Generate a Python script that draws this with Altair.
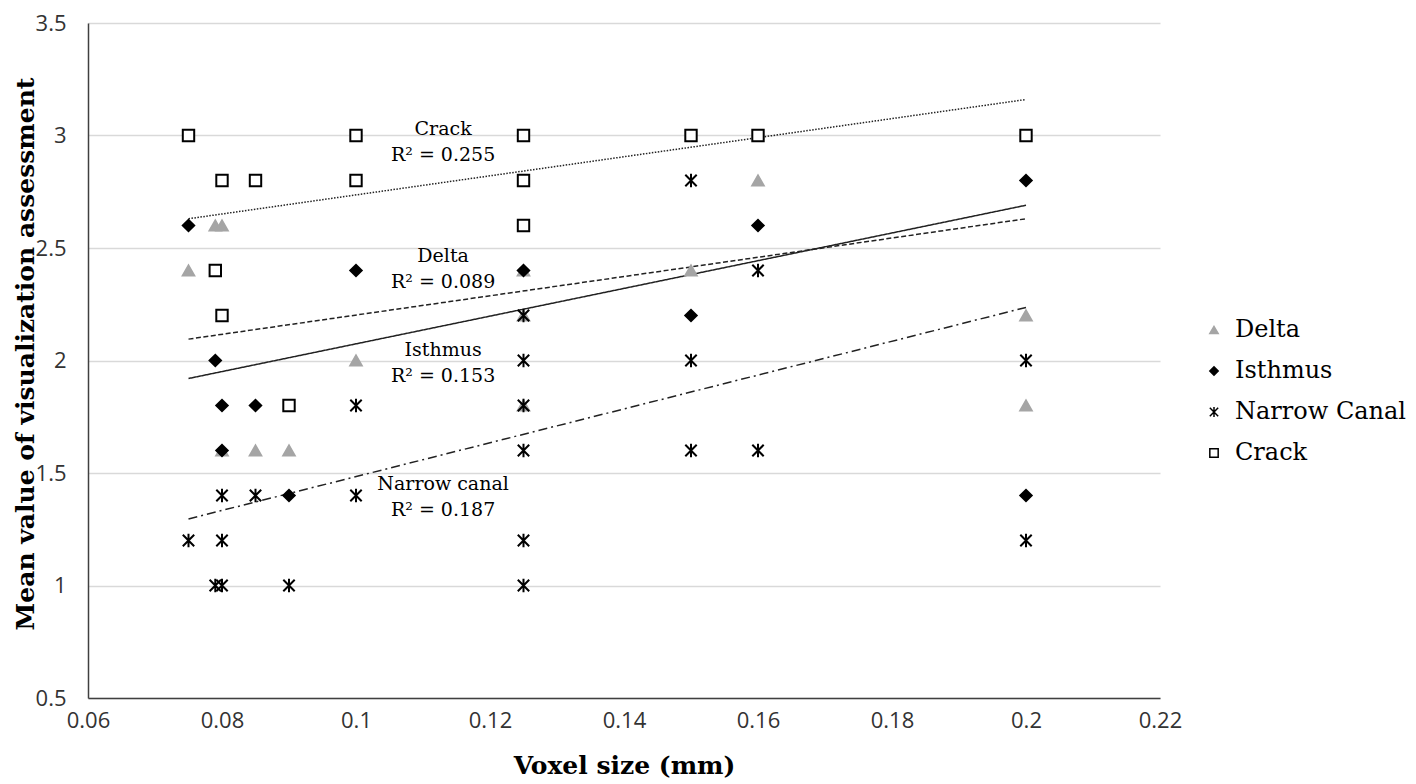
import altair as alt
import pandas as pd

# ---------------- data ----------------
series_order = ["Delta", "Isthmus", "Narrow Canal", "Crack"]

delta_x = [0.075, 0.079, 0.08, 0.08, 0.085, 0.09, 0.1, 0.125, 0.125, 0.125, 0.15, 0.16, 0.2, 0.2]
delta_y = [2.4, 2.6, 2.6, 1.6, 1.6, 1.6, 2.0, 2.4, 2.2, 1.8, 2.4, 2.8, 2.2, 1.8]

isthmus_x = [0.075, 0.079, 0.08, 0.08, 0.085, 0.09, 0.1, 0.125, 0.15, 0.16, 0.2, 0.2]
isthmus_y = [2.6, 2.0, 1.8, 1.6, 1.8, 1.4, 2.4, 2.4, 2.2, 2.6, 2.8, 1.4]

narrow_x = [0.075, 0.079, 0.08, 0.08, 0.08, 0.085, 0.09, 0.1, 0.1,
            0.125, 0.125, 0.125, 0.125, 0.125, 0.125, 0.15, 0.15, 0.15, 0.16, 0.16, 0.2, 0.2]
narrow_y = [1.2, 1.0, 1.4, 1.2, 1.0, 1.4, 1.0, 1.8, 1.4,
            2.2, 2.0, 1.8, 1.6, 1.2, 1.0, 2.8, 2.0, 1.6, 2.4, 1.6, 2.0, 1.2]

crack_x = [0.075, 0.079, 0.08, 0.08, 0.085, 0.09, 0.1, 0.1, 0.125, 0.125, 0.125, 0.15, 0.16, 0.2]
crack_y = [3.0, 2.4, 2.8, 2.2, 2.8, 1.8, 3.0, 2.8, 3.0, 2.8, 2.6, 3.0, 3.0, 3.0]

# linear trend lines (start / end)
trend_x = [0.075, 0.2]
trend_delta = [2.095, 2.63]
trend_isthmus = [1.92, 2.69]
trend_narrow = [1.296, 2.236]
trend_crack = [2.63, 3.16]

# annotations
ann_names = ["Crack", "Delta", "Isthmus", "Narrow canal"]
ann_r2 = ["R² = 0.255", "R² = 0.089", "R² = 0.153", "R² = 0.187"]
ann_x = [0.113, 0.113, 0.113, 0.113]
ann_y = [2.969, 2.4045, 1.991, 1.392]

x_ticks = [0.06, 0.08, 0.10, 0.12, 0.14, 0.16, 0.18, 0.20, 0.22]
y_ticks = [0.5, 1.0, 1.5, 2.0, 2.5, 3.0, 3.5]

# ---------------- tables ----------------
rows = []
for name, xs, ys in [("Delta", delta_x, delta_y), ("Isthmus", isthmus_x, isthmus_y),
                     ("Narrow Canal", narrow_x, narrow_y), ("Crack", crack_x, crack_y)]:
    for a, b in zip(xs, ys):
        rows.append({"series": name, "x": a, "y": b})
pts = pd.DataFrame(rows)

trows = []
for name, ys in [("Delta", trend_delta), ("Isthmus", trend_isthmus),
                 ("Narrow Canal", trend_narrow), ("Crack", trend_crack)]:
    for a, b in zip(trend_x, ys):
        trows.append({"series": name, "x": a, "y": b})
trend = pd.DataFrame(trows)

ann = pd.DataFrame({"name": ann_names, "r2": ann_r2, "x": ann_x, "y": ann_y})

SERIF = "DejaVu Serif"
SANS = "Open Sans"
TOP = 15
H = 690 - TOP

xscale = alt.Scale(domain=[0.06, 0.22], nice=False, zero=False)
yscale = alt.Scale(domain=[0.5, 3.5], nice=False, zero=False)

xaxis = alt.Axis(values=x_ticks, labelExpr="format(datum.value, '.2~f')",
                 title="Voxel size (mm)", grid=False, ticks=False,
                 labelFont=SANS, labelFontSize=22, labelColor="#333333", labelPadding=12,
                 titleFont=SERIF, titleFontSize=25, titleFontWeight="bold", titleColor="#000000",
                 titleX=536, titleY=67, titleBaseline="middle", titleAlign="center",
                 domainColor="#404040", domainWidth=1.5, labelFlush=False)
yaxis = alt.Axis(values=y_ticks, format="~g", title="Mean value of visualization assessment",
                 grid=True, gridColor="#d9d9d9", gridWidth=1.3, ticks=False,
                 labelFont=SANS, labelFontSize=22, labelColor="#333333", labelPadding=22,
                 titleFont=SERIF, titleFontSize=25, titleFontWeight="bold", titleColor="#000000",
                 titleX=-63, titleY=H / 2 - 7, titleAngle=-90, titleBaseline="middle", titleAlign="center",
                 domainColor="#404040", domainWidth=1.5, labelFlush=False)

X = alt.X("x:Q", scale=xscale, axis=xaxis)
Y = alt.Y("y:Q", scale=yscale, axis=yaxis)

asterisk = "M-1,-1L1,1M-1,1L1,-1M0,-1.2L0,1.2"

dashes = {"Delta": [5, 2.5], "Isthmus": [1, 0], "Narrow Canal": [9, 4, 2, 4], "Crack": [1.5, 1.5]}

line_layers = []
for name in series_order:
    line_layers.append(
        alt.Chart(trend).transform_filter(alt.datum.series == name)
        .mark_line(color="#222222", strokeWidth=1.5, strokeDash=dashes[name])
        .encode(x=X, y=Y)
    )

points = alt.Chart(pts).mark_point(filled=True, opacity=1, size=130, strokeWidth=2).encode(
    x=X, y=Y,
    shape=alt.Shape("series:N",
                    scale=alt.Scale(domain=series_order,
                                    range=["triangle-up", "diamond", asterisk, "square"]),
                    legend=alt.Legend(title=None)),
    fill=alt.Fill("series:N",
                  scale=alt.Scale(domain=series_order,
                                  range=["#a5a5a5", "#000000", "#ffffff", "#ffffff"])),
    stroke=alt.Stroke("series:N",
                      scale=alt.Scale(domain=series_order,
                                      range=["#a5a5a5", "#000000", "#000000", "#000000"])),
)

names = alt.Chart(ann).mark_text(font=SERIF, fontSize=19, color="#000000", dy=-13,
                                 align="center", baseline="middle").encode(
    x=X, y=Y, text="name:N")
r2 = alt.Chart(ann).mark_text(font=SERIF, fontSize=19, color="#000000", dy=13,
                              align="center", baseline="middle").encode(
    x=X, y=Y, text="r2:N")

chart = alt.layer(*line_layers, points, names, r2).properties(
    width=1072, height=H,
    autosize=alt.AutoSizeParams(type="none"),
    padding={"left": 80, "top": TOP, "right": 248, "bottom": 86},
).configure_view(stroke=None).configure_legend(
    orient="none", legendX=1114, legendY=310 - TOP,
    labelFont=SERIF, labelFontSize=24, labelColor="#000000", labelLimit=400,
    symbolSize=70, symbolStrokeWidth=1.5, rowPadding=17, labelOffset=9,
    padding=0,
)

chart.save("out.html", embed_options={"renderer": "svg", "actions": False})
